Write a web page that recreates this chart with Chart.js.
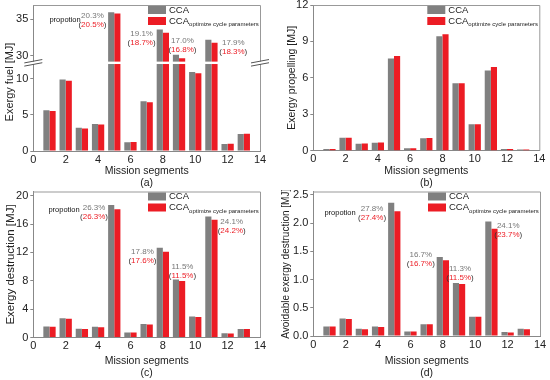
<!DOCTYPE html>
<html>
<head>
<meta charset="utf-8">
<script src="https://cdn.jsdelivr.net/npm/chart.js@4.4.1/dist/chart.umd.min.js"></script>
<style>
  html, body { margin: 0; padding: 0; background: #fff; }
  #wrap { position: relative; width: 550px; height: 380px; overflow: hidden; }
  canvas { position: absolute; }
</style>
</head>
<body>
<div id="wrap">
  <canvas id="pa" width="275" height="190" style="left:0;top:0"></canvas>
  <canvas id="pb" width="275" height="190" style="left:275px;top:0"></canvas>
  <canvas id="pc" width="275" height="190" style="left:0;top:190px"></canvas>
  <canvas id="pd" width="275" height="190" style="left:275px;top:190px"></canvas>
</div>
<script>
// mission segments 1..13
const segments = [1, 2, 3, 4, 5, 6, 7, 8, 9, 10, 11, 12, 13];

// (a) exergy fuel [MJ]
const fuelCCA = [5.65, 9.9, 3.2, 3.75, 36.0, 1.2, 6.9, 33.6, 30.1, 10.93, 32.18, 0.97, 2.36];
const fuelOpt = [5.55, 9.72, 3.1, 3.66, 35.83, 1.25, 6.76, 33.15, 29.63, 10.74, 31.76, 1.02, 2.4];
// (b) exergy propelling [MJ]
const propCCA = [0.15, 1.07, 0.58, 0.66, 7.6, 0.2, 1.02, 9.42, 5.56, 2.18, 6.6, 0.13, 0.1];
const propOpt = [0.15, 1.07, 0.6, 0.68, 7.8, 0.2, 1.05, 9.59, 5.56, 2.18, 6.89, 0.13, 0.1];
// (c) exergy destruction [MJ]
const destCCA = [1.55, 2.7, 1.25, 1.5, 18.7, 0.7, 1.9, 12.65, 8.2, 2.98, 17.06, 0.6, 1.2];
const destOpt = [1.5, 2.65, 1.2, 1.45, 18.1, 0.7, 1.85, 12.1, 7.96, 2.9, 16.6, 0.55, 1.2];
// (d) avoidable exergy destruction [MJ]
const avoidCCA = [0.17, 0.31, 0.13, 0.17, 2.36, 0.08, 0.21, 1.4, 0.94, 0.34, 2.03, 0.07, 0.13];
const avoidOpt = [0.17, 0.3, 0.12, 0.16, 2.21, 0.08, 0.21, 1.34, 0.92, 0.34, 1.9, 0.06, 0.12];

// proportion labels (CCA / optimized) for segments 5, 8, 9, 11
const fuelShare = ['20.3%', '19.1%', '17.0%', '17.9%'];
const fuelShareOpt = ['20.5%', '18.7%', '16.8%', '18.3%'];
const destShare = ['26.3%', '17.8%', '11.5%', '24.1%'];
const destShareOpt = ['26.3%', '17.6%', '11.5%', '24.2%'];
const avoidShare = ['27.8%', '16.7%', '11.3%', '24.1%'];
const avoidShareOpt = ['27.4%', '16.7%', '11.5%', '23.7%'];

const FONT = '"Liberation Sans", Arial, sans-serif';
const GRAY = '#808080';
const RED = '#ec1c24';
const LOW_MAX = 12.2;   // broken axis in (a)
const HIGH_MIN = 29;

Chart.defaults.font.family = FONT;
Chart.defaults.color = '#222';

const pts = (vals) => segments.map((s, i) => ({ x: s, y: vals[i] }));

function xAxis(h, cap) {
  return {
    type: 'linear', min: 0, max: 14, offset: false,
    grid: { display: false, drawTicks: false },
    border: { color: '#888' },
    ticks: { stepSize: 2, padding: 2, font: { size: 11 } },
    title: { display: true, text: ['Mission segments', cap], font: { size: 10.5, lineHeight: 1.1 }, padding: { top: 0, bottom: 1.2 } },
    afterFit: (s) => { s.height = h; s.paddingLeft = 0; s.paddingRight = 0; }
  };
}

function yAxis(w, opts) {
  return Object.assign({
    type: 'linear', position: 'left', stacked: false,
    grid: { drawOnChartArea: false, tickLength: 3, color: '#888' },
    border: { color: '#888' },
    afterFit: (s) => { s.width = w; s.paddingTop = 0; s.paddingBottom = 0; }
  }, opts, {
    ticks: Object.assign({ includeBounds: false, padding: 2, font: { size: 11 } }, opts.ticks)
  });
}

function bars(label, vals, color, stack, yID) {
  return {
    label, data: vals, backgroundColor: color, borderWidth: 0,
    stack, yAxisID: yID || 'y', categoryPercentage: 0.76, barPercentage: 1
  };
}

// draws frame, legend, proportion notes and the axis break
function decor(p) {
  return {
    id: 'decor',
    afterDraw(chart) {
      const { ctx, chartArea: a } = chart;
      ctx.save();
      ctx.strokeStyle = '#999';
      ctx.lineWidth = 1;
      ctx.beginPath();
      ctx.moveTo(a.left, a.top + 0.5);
      ctx.lineTo(a.right + 0.5, a.top + 0.5);
      ctx.lineTo(a.right + 0.5, a.bottom);
      ctx.stroke();

      if (p.brk) {
        const yb = chart.scales.yLow.top;
        ctx.fillStyle = '#fff';
        ctx.fillRect(a.left - 10, yb - 1.2, a.width + 22, 2.4);
        ctx.strokeStyle = '#555';
        [a.left, a.right].forEach((x0) => {
          [-1.6, 1.6].forEach((d) => {
            ctx.beginPath();
            ctx.moveTo(x0 - 9, yb + d + 1.7);
            ctx.lineTo(x0 + 9, yb + d - 1.7);
            ctx.stroke();
          });
        });
      }

      if (p.yTitle) {
        ctx.save();
        ctx.translate(p.yTitle.x, p.yTitle.y);
        ctx.rotate(-Math.PI / 2);
        ctx.font = '11px ' + FONT;
        ctx.fillStyle = '#222';
        ctx.textAlign = 'center';
        ctx.textBaseline = 'middle';
        ctx.fillText(p.yTitle.text, 0, 0);
        ctx.restore();
      }

      // legend
      const lx = a.right - 112, ly = a.top + 1;
      ctx.fillStyle = GRAY;
      ctx.fillRect(lx, ly, 18, 8);
      ctx.fillStyle = RED;
      ctx.fillRect(lx, ly + 11, 18, 8);
      ctx.fillStyle = '#222';
      ctx.textBaseline = 'middle';
      ctx.textAlign = 'left';
      ctx.font = '9.5px ' + FONT;
      ctx.fillText('CCA', lx + 21, ly + 4);
      ctx.fillText('CCA', lx + 21, ly + 15);
      const cw = ctx.measureText('CCA').width;
      ctx.font = '6px ' + FONT;
      ctx.fillText('optimize cycle parameters', lx + 21 + cw, ly + 18.5);

      // proportion notes
      if (p.notes) {
        const xs = chart.scales.x, ys = chart.scales[p.noteAxis];
        ctx.textBaseline = 'middle';
        ctx.font = '7.5px ' + FONT;
        ctx.fillStyle = '#111';
        ctx.textAlign = 'center';
        ctx.fillText('propotion', xs.getPixelForValue(p.word[0]), ys.getPixelForValue(p.word[1]));
        p.notes.forEach((n, i) => {
          const px = xs.getPixelForValue(n[0]), py = ys.getPixelForValue(n[1]);
          ctx.font = '8px ' + FONT;
          ctx.textAlign = 'center';
          ctx.fillStyle = '#777';
          ctx.fillText(p.share[i], px, py);
          const inner = p.shareOpt[i];
          const wp = ctx.measureText('(').width, wi = ctx.measureText(inner).width;
          let x = px - (wp * 2 + wi) / 2;
          const y2 = py + 9;
          ctx.textAlign = 'left';
          ctx.fillStyle = '#333';
          ctx.fillText('(', x, y2);
          ctx.fillStyle = RED;
          ctx.fillText(inner, x + wp, y2);
          ctx.fillStyle = '#333';
          ctx.fillText(')', x + wp + wi, y2);
        });
      }
      ctx.restore();
    }
  };
}

const common = {
  responsive: false, animation: false,
  plugins: { legend: { display: false }, tooltip: { enabled: false } }
};

// (a) broken axis: two stacked y scales
new Chart(document.getElementById('pa'), {
  type: 'bar',
  data: {
    datasets: [
      bars('CCA', pts(fuelCCA.map((v) => Math.min(v, LOW_MAX))), GRAY, 'g', 'yLow'),
      bars('CCA opt', pts(fuelOpt.map((v) => Math.min(v, LOW_MAX))), RED, 'r', 'yLow'),
      bars('CCA', pts(fuelCCA).filter((d) => d.y > HIGH_MIN), GRAY, 'g', 'yHigh'),
      bars('CCA opt', pts(fuelOpt).filter((d) => d.y > HIGH_MIN), RED, 'r', 'yHigh')
    ]
  },
  options: Object.assign({}, common, {
    layout: { padding: { left: 0, top: 5, right: 15, bottom: 0 } },
    scales: {
      x: xAxis(39, '(a)'),
      yLow: yAxis(33.3, { stack: 'fuel', stackWeight: LOW_MAX, min: 0, max: LOW_MAX, ticks: { stepSize: 5 } }),
      yHigh: yAxis(33.3, { stack: 'fuel', stackWeight: 37 - HIGH_MIN, min: HIGH_MIN, max: 37, ticks: { stepSize: 5 } })
    }
  }),
  plugins: [decor({
    brk: true, noteAxis: 'yHigh', word: [1.96, 35.0],
    yTitle: { text: 'Exergy fuel [MJ]', x: 10, y: 82 },
    notes: [[3.65, 35.55], [6.69, 33.06], [9.21, 32.08], [12.35, 31.8]],
    share: fuelShare, shareOpt: fuelShareOpt
  })]
});

// (b)
new Chart(document.getElementById('pb'), {
  type: 'bar',
  data: { datasets: [bars('CCA', pts(propCCA), GRAY, 'g'), bars('CCA opt', pts(propOpt), RED, 'r')] },
  options: Object.assign({}, common, {
    layout: { padding: { left: 0, top: 5, right: 10.7, bottom: 0 } },
    scales: {
      x: xAxis(39.3, '(b)'),
      y: yAxis(38.3, { min: 0, max: 12, ticks: { stepSize: 3 },
        title: { display: true, text: 'Exergy propelling [MJ]', font: { size: 10.5 }, padding: { top: 11, bottom: 0 } } })
    }
  }),
  plugins: [decor({})]
});

// (c)
new Chart(document.getElementById('pc'), {
  type: 'bar',
  data: { datasets: [bars('CCA', pts(destCCA), GRAY, 'g'), bars('CCA opt', pts(destOpt), RED, 'r')] },
  options: Object.assign({}, common, {
    layout: { padding: { left: 0, top: 1.5, right: 15, bottom: 0 } },
    scales: {
      x: xAxis(42.5, '(c)'),
      y: yAxis(33.3, { min: 0, max: 20.6, ticks: { stepSize: 4 },
        title: { display: true, text: 'Exergy destruction [MJ]', font: { size: 11.5 }, padding: { top: 4, bottom: 0 } } })
    }
  }),
  plugins: [decor({
    noteAxis: 'y', word: [1.9, 18.0],
    notes: [[3.75, 18.35], [6.74, 12.1], [9.21, 9.96], [12.25, 16.36]],
    share: destShare, shareOpt: destShareOpt
  })]
});

// (d)
new Chart(document.getElementById('pd'), {
  type: 'bar',
  data: { datasets: [bars('CCA', pts(avoidCCA), GRAY, 'g'), bars('CCA opt', pts(avoidOpt), RED, 'r')] },
  options: Object.assign({}, common, {
    layout: { padding: { left: 0, top: 1.5, right: 10, bottom: 0 } },
    scales: {
      x: xAxis(44, '(d)'),
      y: yAxis(38.3, { min: 0, max: 2.56, ticks: { stepSize: 0.5, callback: (v) => v.toFixed(1) },
        title: { display: true, text: 'Avoidable exergy destruction [MJ]', font: { size: 10 }, padding: { top: 5, bottom: 0 } } })
    }
  }),
  plugins: [decor({
    noteAxis: 'y', word: [1.65, 2.18],
    notes: [[3.63, 2.25], [6.64, 1.44], [9.06, 1.19], [12.04, 1.95]],
    share: avoidShare, shareOpt: avoidShareOpt
  })]
});
</script>
</body>
</html>
